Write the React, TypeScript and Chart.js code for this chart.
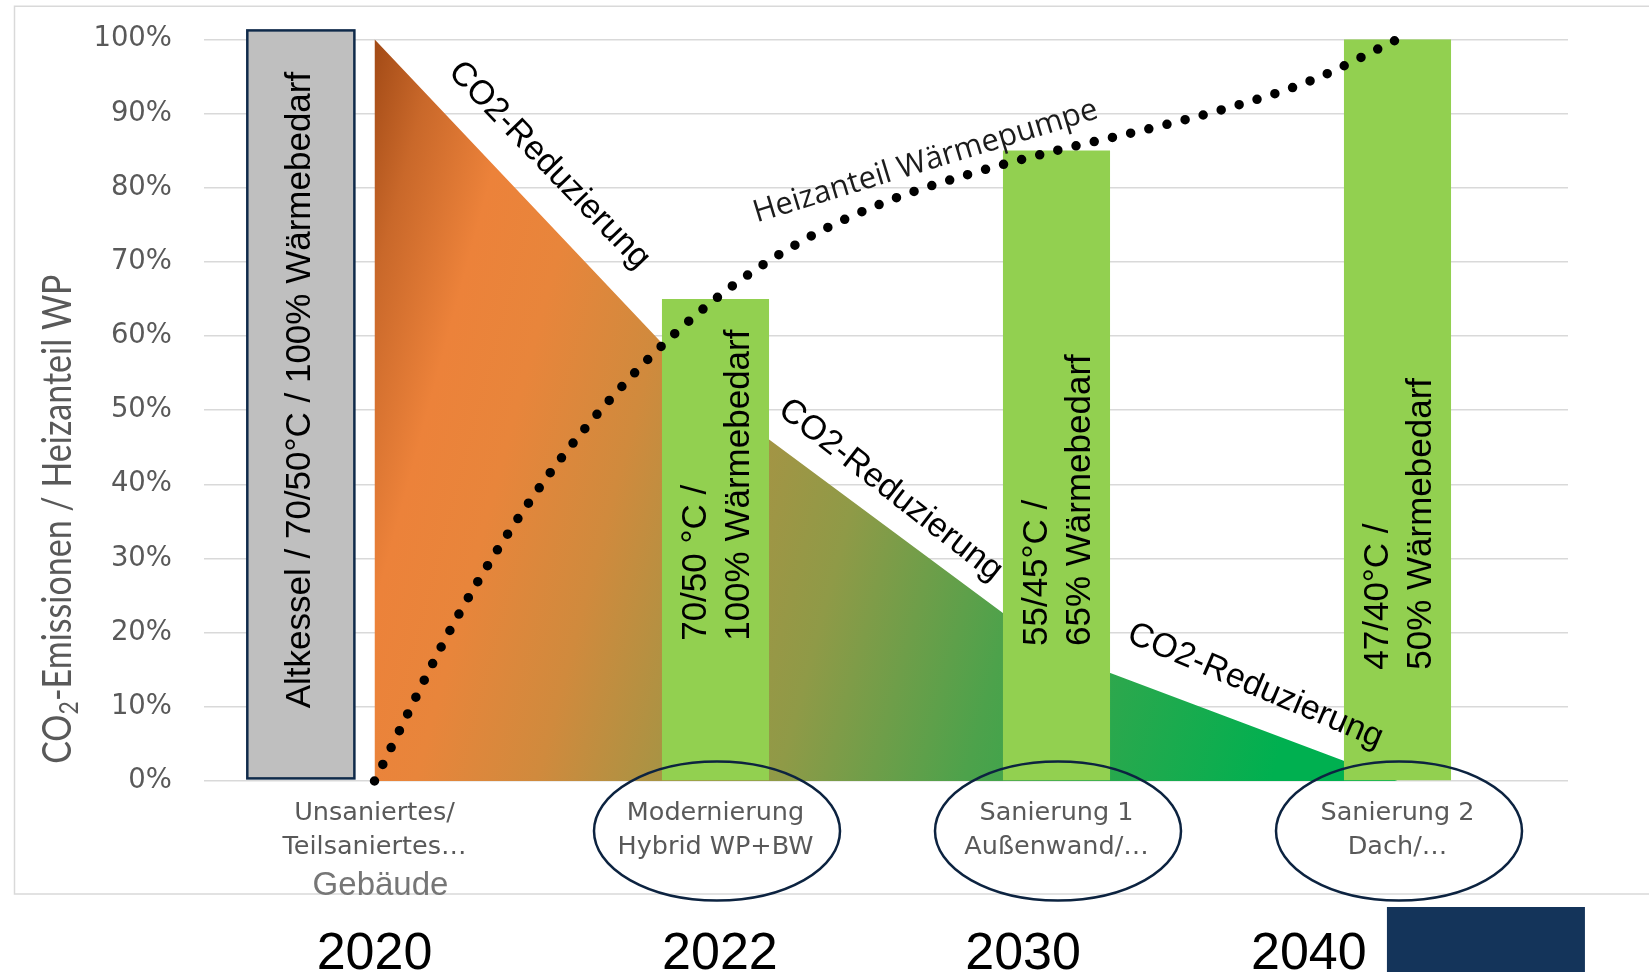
import { useEffect, useRef } from 'react';
import { Chart, registerables } from 'chart.js';

Chart.register(...registerables);

// Renovation stages on the category axis (two-line tick labels)
const stageLabels: string[][] = [
  ['Unsaniertes/', 'Teilsaniertes…'],
  ['Modernierung', 'Hybrid WP+BW'],
  ['Sanierung 1', 'Außenwand/…'],
  ['Sanierung 2', 'Dach/…'],
];
const yearLabels = ['2020', '2022', '2030', '2040'];

// CO2 emissions relative to the unrenovated building, in %
const co2Emissions = [100, 51.4, 17.3, 0];
// Heat pump share of the heating, in % (green columns)
const heatPumpShare = [null, 65, 85, 100];
// Dotted "Heizanteil Wärmepumpe" trend, sampled along its course (x in stage units)
const curveStage = [0, 0.25, 0.5, 0.75, 1, 1.25, 1.5, 1.75, 2, 2.25, 2.5, 2.75, 3];
const curveShare = [0, 22.7, 40.6, 54.4, 65, 72.7, 78.1, 81.9, 85, 87.7, 90.7, 94.5, 100];

// Texts written upright inside the columns (bottom to top)
const boilerText = 'Altkessel / 70/50°C / 100% Wärmebedarf';
const columnTexts: string[][] = [
  [],
  ['70/50 °C /', '100% Wärmebedarf'],
  ['55/45°C /', '65% Wärmebedarf'],
  ['47/40°C /', '50% Wärmebedarf'],
];
const reductionText = 'CO2-Reduzierung';
const curveText = 'Heizanteil Wärmepumpe';

const ARIAL = '"Liberation Sans", Arial, sans-serif';

function areaFill(c: any) {
  const chart = c.chart;
  const xs = chart.scales && chart.scales.x;
  const ys = chart.scales && chart.scales.y;
  if (!chart.chartArea || !xs || !ys) return '#e9843a';
  const x0 = xs.getPixelForValue(0);
  const x1 = xs.getPixelForValue(3);
  const y0 = ys.getPixelForValue(100);
  const w = x1 - x0;
  const g = chart.ctx.createLinearGradient(x0, y0, x1, y0 + 0.27 * w);
  g.addColorStop(0, '#a24a16');
  g.addColorStop(0.06, '#c9682a');
  g.addColorStop(0.14, '#ec823a');
  g.addColorStop(0.22, '#e8853b');
  g.addColorStop(0.33, '#d08a3d');
  g.addColorStop(0.45, '#a59444');
  g.addColorStop(0.55, '#8f9a47');
  g.addColorStop(0.72, '#4da24b');
  g.addColorStop(0.84, '#2aa84d');
  g.addColorStop(1, '#00b050');
  return g;
}

function text(
  ctx: CanvasRenderingContext2D,
  s: string,
  x: number,
  y: number,
  font: string,
  color: string,
  angle = 0,
  align: CanvasTextAlign = 'center',
  baseline: CanvasTextBaseline = 'middle',
) {
  ctx.save();
  ctx.translate(x, y);
  if (angle) ctx.rotate((angle * Math.PI) / 180);
  ctx.font = font;
  ctx.fillStyle = color;
  ctx.textAlign = align;
  ctx.textBaseline = baseline;
  ctx.fillText(s, 0, 0);
  ctx.restore();
}

const overlay = {
  id: 'overlay',
  beforeDraw(chart: any) {
    const { ctx, chartArea: a } = chart;
    ctx.save();
    ctx.strokeStyle = '#d9d9d9';
    ctx.lineWidth = 1.5;
    ctx.beginPath();
    ctx.moveTo(chart.width + 2, a.top - 33);
    ctx.lineTo(14.5, a.top - 33);
    ctx.lineTo(14.5, a.bottom + 113);
    ctx.lineTo(chart.width + 2, a.bottom + 113);
    ctx.stroke();
    ctx.restore();
  },
  afterDatasetsDraw(chart: any) {
    const { ctx, chartArea: a } = chart;
    const xs = chart.scales.x;
    const xl = chart.scales.xl;
    const ys = chart.scales.y;
    const bars = chart.getDatasetMeta(1).data;
    const barW = bars[1].width;

    // old boiler box left of the first stage
    const bx = xl.getPixelForValue(-0.216);
    const bTop = ys.getPixelForValue(101.2);
    const bBottom = ys.getPixelForValue(0.35);
    ctx.save();
    ctx.fillStyle = '#bfbfbf';
    ctx.fillRect(bx - barW / 2, bTop, barW, bBottom - bTop);
    ctx.strokeStyle = '#0f2a4a';
    ctx.lineWidth = 2.5;
    ctx.strokeRect(bx - barW / 2, bTop, barW, bBottom - bTop);
    ctx.restore();
    text(ctx, boilerText, bx + 9, ys.getPixelForValue(9.8), `35px ${ARIAL}`, '#000', -90, 'left', 'alphabetic');

    // upright texts in the green columns
    const startAt = [0, 18.9, 18.2, 15.0];
    const lineOffsets = [-9.5, 33.5];
    for (let i = 1; i < bars.length; i++) {
      const bar = bars[i];
      columnTexts[i].forEach((line, k) => {
        text(ctx, line, bar.x + lineOffsets[k], ys.getPixelForValue(startAt[i]), `35px ${ARIAL}`, '#000', -90, 'left', 'alphabetic');
      });
    }

    // "CO2-Reduzierung" along the emission slopes
    const reductions = [
      { s: 0.512, v: 83.0, angle: 46 },
      { s: 1.513, v: 39.2, angle: 38 },
      { s: 2.583, v: 12.8, angle: 23 },
    ];
    reductions.forEach((r) => {
      text(ctx, reductionText, xl.getPixelForValue(r.s), ys.getPixelForValue(r.v), `34px ${ARIAL}`, '#000', r.angle);
    });

    // label of the dotted heat pump curve
    text(ctx, curveText, xl.getPixelForValue(1.616), ys.getPixelForValue(83.5), '31px "Open Sans"', '#1c1c1c', -17);

    // ellipses around the renovation steps
    ctx.save();
    ctx.strokeStyle = '#0c2340';
    ctx.lineWidth = 2.5;
    for (let i = 1; i < 4; i++) {
      ctx.beginPath();
      ctx.ellipse(xs.getPixelForValue(i) + 1.5, a.bottom + 50, 123, 69.5, 0, 0, Math.PI * 2);
      ctx.stroke();
    }
    ctx.restore();

    // building note under the first stage
    text(ctx, 'Gebäude', xs.getPixelForValue(0) + 6, a.bottom + 114, `33px ${ARIAL}`, '#767676', 0, 'center', 'alphabetic');

    // years of each step
    const yearAt = [0, 1.013, 1.902, 2.74];
    yearLabels.forEach((y, i) => {
      text(ctx, y, xl.getPixelForValue(yearAt[i]), a.bottom + 188, `52px ${ARIAL}`, '#000', 0, 'center', 'alphabetic');
    });

    // dark box at the lower right
    ctx.save();
    ctx.fillStyle = '#14345a';
    const rx = xl.getPixelForValue(2.969);
    ctx.fillRect(rx, a.bottom + 126, 198, chart.height - a.bottom - 126);
    ctx.restore();

    // y-axis title with subscript
    ctx.save();
    ctx.translate(71, ys.getPixelForValue(35.3));
    ctx.rotate(-Math.PI / 2);
    ctx.scale(1, 1.2);
    ctx.fillStyle = '#595959';
    ctx.textAlign = 'left';
    ctx.textBaseline = 'alphabetic';
    const big = '34px Lato';
    const small = '23px Lato';
    const rest = '-Emissionen / Heizanteil WP';
    ctx.font = big;
    const wCO = ctx.measureText('CO').width;
    const wRest = ctx.measureText(rest).width;
    ctx.font = small;
    const w2 = ctx.measureText('2').width;
    let x = -(wCO + w2 + wRest) / 2;
    ctx.font = big;
    ctx.fillText('CO', x, 0);
    x += wCO;
    ctx.font = small;
    ctx.fillText('2', x, 6);
    x += w2;
    ctx.font = big;
    ctx.fillText(rest, x, 0);
    ctx.restore();
  },
};

export default function App() {
  const ref = useRef<HTMLCanvasElement>(null);

  useEffect(() => {
    const canvas = ref.current;
    if (!canvas) return;
    const chart = new Chart(canvas, {
      type: 'bar',
      data: {
        labels: stageLabels as any,
        datasets: [
          {
            type: 'line',
            label: 'Heizanteil Wärmepumpe',
            xAxisID: 'xl',
            data: curveStage.map((s, i) => ({ x: s, y: curveShare[i] })),
            borderColor: '#000',
            borderWidth: 9.5,
            borderDash: [0, 18.7],
            borderCapStyle: 'round',
            pointRadius: 0,
            fill: false,
            cubicInterpolationMode: 'monotone',
            clip: false as any,
            order: 1,
          } as any,
          {
            type: 'bar',
            label: 'Heizanteil WP',
            xAxisID: 'x',
            data: heatPumpShare,
            backgroundColor: '#92d050',
            grouped: false,
            barPercentage: 0.314,
            categoryPercentage: 1,
            order: 2,
          } as any,
          {
            type: 'line',
            label: 'CO2-Emissionen',
            xAxisID: 'x',
            data: co2Emissions,
            backgroundColor: areaFill,
            borderWidth: 0,
            pointRadius: 0,
            fill: 'origin',
            tension: 0,
            order: 3,
          } as any,
        ],
      },
      options: {
        responsive: false,
        animation: false,
        layout: { padding: { top: 39.3, right: 81, bottom: 0, left: 0 } },
        plugins: { legend: { display: false }, tooltip: { enabled: false } },
        scales: {
          x: {
            type: 'category',
            offset: true,
            grid: { display: false, drawTicks: false },
            border: { display: false },
            ticks: {
              autoSkip: false,
              maxRotation: 0,
              padding: 15,
              color: '#595959',
              font: { family: '"DejaVu Sans"', size: 25.5, lineHeight: 1.34 },
            },
            afterFit(s: any) {
              s.height = 191;
            },
          },
          xl: {
            type: 'linear',
            display: false,
            offset: false,
            bounds: 'data',
            min: -0.5,
            max: 3.5,
            grid: { offset: false },
          },
          y: {
            min: 0,
            max: 100,
            ticks: {
              stepSize: 10,
              padding: 32,
              color: '#595959',
              font: { family: '"DejaVu Sans"', size: 27.5 },
              callback: (v: any) => `${v}%`,
            },
            grid: { color: '#d9d9d9', lineWidth: 1.5, drawTicks: false },
            border: { display: false },
            afterFit(s: any) {
              s.width = 204;
              s.paddingTop = 0;
              s.paddingBottom = 0;
            },
          },
        },
      } as any,
      plugins: [overlay],
    });
    return () => chart.destroy();
  }, []);

  return (
    <div style={{ position: 'absolute', left: 0, top: 0, width: 1649, height: 972, background: '#fff' }}>
      <canvas ref={ref} width={1649} height={972} style={{ display: 'block' }} />
    </div>
  );
}
